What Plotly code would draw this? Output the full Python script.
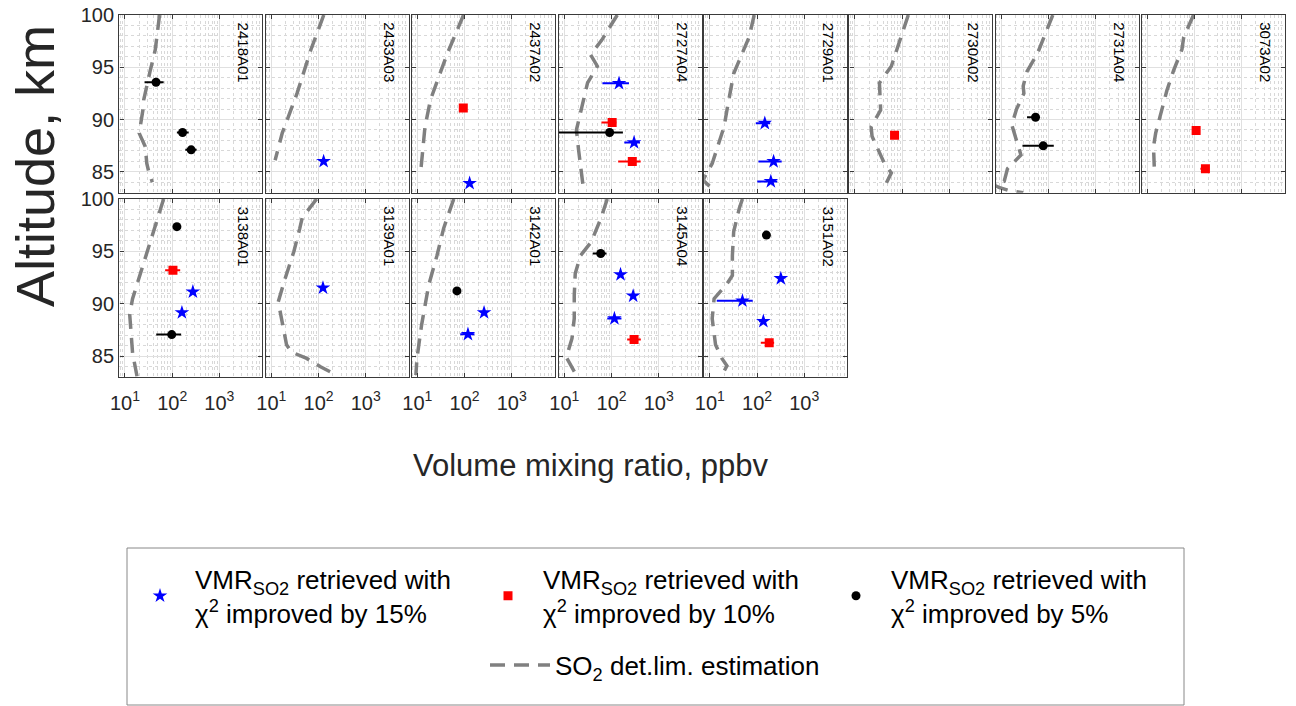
import plotly.graph_objects as go

# panel names (occultation ids)
panel_names = ['2418A01', '2433A03', '2437A02', '2727A04', '2729A01', '2730A02', '2731A04', '3073A02',
               '3138A01', '3139A01', '3142A01', '3145A04', '3151A02']

# SO2 detection limit profiles, altitude (km) and vmr (ppbv) for each panel
dl_alt = [
    [100, 96.7, 94.6, 91.9, 90.9, 88.7, 87.4, 85.8, 85.0, 84.0],
    [100, 96.7, 92.5, 88.7, 86.1],
    [100, 96.3, 91.9, 89.3, 84.9],
    [100, 97.6, 96.2, 95.1, 93.5, 91.2, 89.0, 87.1, 85.2, 83.6],
    [100, 97.9, 94.4, 92.8, 90.9, 89.3, 87.4, 85.8, 84.9, 84.2, 83.6, 83.0],
    [100, 95.1, 93.5, 90.9, 89.3, 88.4, 85.8, 84.9, 83.9],
    [100, 96.3, 94.6, 93.2, 92.5, 91.0, 89.5, 87.6, 86.6, 85.3, 84.1, 83.7, 83.5, 83.2, 83.0],
    [100, 97.9, 96.7, 94.7, 92.8, 90.9, 88.7, 87.4, 85.5],
    [100, 98.5, 96.0, 94.0, 92.0, 90.5, 89.0, 87.0, 85.3, 83.1],
    [100, 98.2, 97.2, 95.0, 92.4, 90.2, 88.0, 86.1, 85.4, 84.8, 84.0, 83.2],
    [100, 99.1, 97.2, 94.6, 91.8, 88.0, 84.8, 83.2],
    [100, 98.2, 95.9, 94.6, 92.9, 90.8, 88.6, 86.7, 84.9, 83.2],
    [100, 99.1, 96.9, 94.6, 92.7, 91.9, 90.5, 88.6, 86.1, 84.8, 84.1, 83.2],
]
dl_vmr = [
    [54, 44, 34, 25, 24, 20, 27, 29, 32, 38],
    [129, 69, 35, 17, 12],
    [95, 43, 19, 14.5, 11.7],
    [132, 62, 36, 50, 31, 23, 18, 20, 23, 25],
    [87, 68, 32, 27, 23, 20, 14.5, 11.2, 8.7, 7.1, 10, 12.3],
    [135, 59, 33, 35, 22, 23, 42, 59, 46],
    [123, 58, 35, 29, 30, 21, 16.6, 22, 26, 13.5, 11.5, 7.1, 8.9, 14.5, 29],
    [95, 59, 54, 36, 26, 20, 15, 13.5, 14],
    [66, 52, 36, 26, 19, 14.5, 12.6, 13.5, 14.5, 18],
    [91, 45, 40, 30, 19.5, 14, 17.4, 21, 27, 56, 110, 245],
    [59, 50, 36, 26, 17.4, 12.3, 9.8, 9.3],
    [81, 60, 37, 22, 17, 16.2, 16.2, 14.5, 11, 18],
    [49, 42, 32, 30, 30, 23, 12.3, 11.2, 13.2, 18, 23, 18],
]

# chi2 improved by 15%
blue_panel = [1, 2, 3, 3, 4, 4, 4, 8, 8, 9, 10, 10, 11, 11, 11, 12, 12, 12]
blue_alt = [86.0, 83.9, 93.47, 87.8, 89.65, 85.99, 84.08, 91.15, 89.17, 91.53, 89.17, 87.1,
            92.8, 90.76, 88.6, 92.42, 90.29, 88.34]
blue_vmr = [128, 128, 144, 300, 146, 224, 196, 275, 161, 124, 259, 118, 155, 287, 115, 319, 49, 136]
blue_lo = [128, 128, 64, 186, 94, 107, 101, 275, 161, 124, 259, 81, 140, 287, 81, 319, 14, 110]
blue_hi = [128, 128, 234, 400, 190, 333, 268, 275, 161, 124, 259, 162, 175, 287, 162, 319, 81, 150]

# chi2 improved by 10%
red_panel = [2, 3, 3, 5, 7, 7, 8, 11, 12]
red_alt = [91.1, 89.71, 85.99, 88.5, 88.95, 85.29, 93.2, 86.6, 86.3]
red_vmr = [94, 103, 275, 69, 108, 170, 104, 300, 181]
red_lo = [94, 61, 138, 64, 104, 133, 71, 214, 120]
red_hi = [94, 126, 414, 75, 112, 200, 148, 417, 230]

# chi2 improved by 5%
black_panel = [0, 0, 0, 3, 6, 6, 8, 8, 10, 11, 12]
black_alt = [93.57, 88.76, 87.1, 88.76, 90.22, 87.48, 97.36, 87.07, 91.24, 94.8, 96.56]
black_vmr = [45.5, 166, 253, 91, 53, 77, 126, 98, 69, 59, 158]
black_lo = [26, 126, 190, 5, 35, 28, 115, 46, 69, 40, 158]
black_hi = [66, 224, 330, 174, 63, 129, 138, 155, 69, 78, 158]

W, H = 1296, 706
OFF = 8  # page body margin, subtracted so pixel positions match the screen
col_left = [119.3, 265.7, 411.7, 558.7, 704.2, 849.3, 995.7, 1141.7]
pw = 143.0
row_px = [(15, 192.7), (199, 377.3)]
sans = 'Liberation Sans, Arial'


def px(x):
    return (x - OFF) / W


def py(y):
    return 1 - (y - OFF) / H


fig = go.Figure()

series = [
    ('blue', 'star', 11, blue_panel, blue_alt, blue_vmr, blue_lo, blue_hi,
     'VMR<sub>SO2</sub> retrieved with<br>\u03c7<sup>2</sup> improved by 15%', 1),
    ('red', 'square', 9, red_panel, red_alt, red_vmr, red_lo, red_hi,
     'VMR<sub>SO2</sub> retrieved with<br>\u03c7<sup>2</sup> improved by 10%', 2),
    ('black', 'circle', 9, black_panel, black_alt, black_vmr, black_lo, black_hi,
     'VMR<sub>SO2</sub> retrieved with<br>\u03c7<sup>2</sup> improved by 5%', 3),
]

for i, name in enumerate(panel_names):
    n = i + 1
    xa = 'x' if n == 1 else f'x{n}'
    ya = 'y' if n == 1 else f'y{n}'
    # detection limit
    fig.add_trace(go.Scatter(
        x=dl_vmr[i], y=dl_alt[i], mode='lines', xaxis=xa, yaxis=ya,
        line=dict(color='#808080', width=3.5, dash='15px,9px'),
        name='SO<sub>2</sub> det.lim. estimation', legend='legend2',
        showlegend=(i == 0), legendgroup='dl'))
    for color, sym, size, pan, alt, vmr, lo, hi, label, rank in series:
        idx = [k for k, p in enumerate(pan) if p == i]
        if not idx:
            continue
        first = pan.index(i) == 0
        fig.add_trace(go.Scatter(
            x=[vmr[k] for k in idx], y=[alt[k] for k in idx], mode='markers',
            xaxis=xa, yaxis=ya,
            marker=dict(color=color, symbol=sym, size=size, line=dict(width=0)),
            error_x=dict(type='data', symmetric=False,
                         array=[hi[k] - vmr[k] for k in idx],
                         arrayminus=[vmr[k] - lo[k] for k in idx],
                         color=color, thickness=2, width=0),
            name=label, legendgroup=color, showlegend=first, legendrank=rank))

minor_x = [m * 10 ** e for e in range(0, 4) for m in range(2, 10)]
layout = {}
annotations = []
for i, name in enumerate(panel_names):
    n = i + 1
    row = 0 if i < 8 else 1
    col = i if i < 8 else i - 8
    xk = 'xaxis' if n == 1 else f'xaxis{n}'
    yk = 'yaxis' if n == 1 else f'yaxis{n}'
    ya = 'y' if n == 1 else f'y{n}'
    xa = 'x' if n == 1 else f'x{n}'
    layout[xk] = dict(
        domain=[px(col_left[col]), px(col_left[col] + pw)], anchor=ya, type='log',
        range=[0.88, 3.91], automargin=False,
        tickvals=[10, 100, 1000], ticktext=['10<sup>1</sup>', '10<sup>2</sup>', '10<sup>3</sup>'],
        showticklabels=(row == 1), tickfont=dict(size=20, color='#262626', family=sans),
        ticklabelstandoff=7,
        showgrid=True, gridcolor='#e0e0e0', gridwidth=1,
        minor=dict(tickmode='array', tickvals=minor_x, showgrid=True, gridcolor='#d8d8d8',
                   griddash='dot', gridwidth=1, ticks=''),
        showline=True, linecolor='#3a3a3a', linewidth=1.4, mirror='ticks',
        ticks='inside', ticklen=4, tickcolor='#3a3a3a', zeroline=False, fixedrange=True)
    layout[yk] = dict(
        domain=[py(row_px[row][1]), py(row_px[row][0])], anchor=xa, range=[83, 100], automargin=False,
        tickvals=[85, 90, 95, 100], showticklabels=(col == 0), ticklabeloverflow='allow',
        tickfont=dict(size=20, color='#262626', family=sans),
        showgrid=True, gridcolor='#e0e0e0', gridwidth=1,
        minor=dict(dtick=1, tick0=0, showgrid=True, gridcolor='#d8d8d8', griddash='dot', gridwidth=1, ticks=''),
        showline=True, linecolor='#3a3a3a', linewidth=1.4, mirror='ticks',
        ticks='inside', ticklen=4, tickcolor='#3a3a3a', zeroline=False, fixedrange=True)
    annotations.append(dict(
        text=name, xref=f'{xa} domain', yref=f'{ya} domain', x=0.87, y=0.97,
        xanchor='center', yanchor='top', textangle=90, showarrow=False,
        font=dict(size=15, color='black', family=sans)))

annotations.append(dict(
    text='Altitude, km', xref='paper', yref='paper', x=px(35), y=py(166),
    textangle=-90, showarrow=False, xanchor='center', yanchor='middle',
    font=dict(size=54, color='#262626', family=sans)))
annotations.append(dict(
    text='Volume mixing ratio, ppbv', xref='paper', yref='paper', x=px(590), y=py(465),
    showarrow=False, xanchor='center', yanchor='middle',
    font=dict(size=31, color='#262626', family=sans)))

fig.update_layout(
    width=W, height=H, margin=dict(l=0, r=0, t=0, b=0),
    paper_bgcolor='white', plot_bgcolor='white',
    annotations=annotations,
    shapes=[dict(type='rect', xref='paper', yref='paper', x0=px(127), x1=px(1184),
                 y0=py(705), y1=py(548), line=dict(color='#888888', width=1))],
    legend=dict(orientation='h', x=px(125), y=py(596), xanchor='left', yanchor='middle',
                itemwidth=60, entrywidth=273, font=dict(size=26, family=sans, color='black'),
                bgcolor='rgba(0,0,0,0)', valign='middle', traceorder='normal'),
    legend2=dict(orientation='h', x=px(485), y=py(665), xanchor='left', yanchor='middle',
                 itemwidth=60, font=dict(size=26, family=sans, color='black'),
                 bgcolor='rgba(0,0,0,0)'),
    **layout,
)

fig.write_html('out.html')
